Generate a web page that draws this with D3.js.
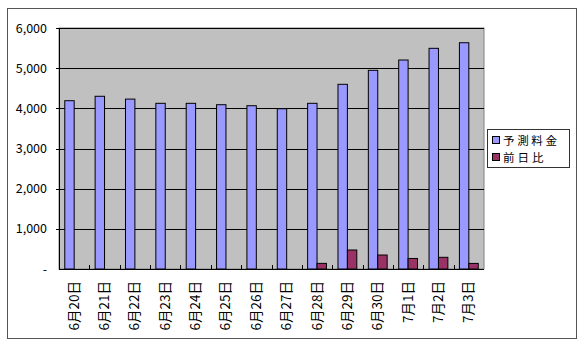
<!DOCTYPE html>
<html>
<head>
<meta charset="utf-8">
<script src="https://cdn.jsdelivr.net/npm/d3@7"></script>
<style>
  body { margin: 0; background: #fff; }
  svg text { font-family: "Noto Sans CJK JP", "DejaVu Sans", sans-serif; }
</style>
</head>
<body>
<svg id="chart" width="586" height="346"></svg>
<script>
// data
const categories = ["6月20日", "6月21日", "6月22日", "6月23日", "6月24日", "6月25日", "6月26日",
                    "6月27日", "6月28日", "6月29日", "6月30日", "7月1日", "7月2日", "7月3日"];
const yosoku = [4190, 4300, 4230, 4125, 4125, 4090, 4065, 3990, 4125, 4598, 4946, 5203, 5494, 5633];
const zenjitsu = [0, 0, 0, 0, 0, 0, 0, 0, 140, 473, 348, 262, 291, 139];
const seriesNames = ["予測料金", "前日比"];
const seriesColors = ["#9999FF", "#993366"];
const yTicks = [0, 1000, 2000, 3000, 4000, 5000, 6000];

const svg = d3.select("#chart");

// outer chart frame
svg.append("rect")
  .attr("x", 7.5).attr("y", 8.5)
  .attr("width", 569).attr("height", 330)
  .attr("fill", "#fff").attr("stroke", "#555").attr("stroke-width", 1);

const plot = { left: 59, right: 484, top: 28, bottom: 269 };

const x = d3.scaleBand()
  .domain(categories)
  .range([plot.left, plot.right]);

const y = d3.scaleLinear()
  .domain([0, 6000])
  .range([plot.bottom, plot.top]);

const barW = x.bandwidth() * 0.31;
const barOff = (x.bandwidth() - 2 * barW) / 2;

// plot area background
svg.append("rect")
  .attr("x", plot.left).attr("y", plot.top)
  .attr("width", plot.right - plot.left).attr("height", plot.bottom - plot.top)
  .attr("fill", "#C0C0C0").attr("stroke", "#808080");

// gridlines
svg.append("g")
  .selectAll("line")
  .data(yTicks.filter(d => d > 0))
  .join("line")
  .attr("x1", plot.left - 3).attr("x2", plot.right)
  .attr("y1", d => Math.round(y(d)) + 0.5).attr("y2", d => Math.round(y(d)) + 0.5)
  .attr("stroke", "#000").attr("stroke-width", 1);

// y axis labels
svg.append("g")
  .selectAll("text")
  .data(yTicks)
  .join("text")
  .attr("x", 47)
  .attr("y", d => y(d) + 4.5)
  .attr("text-anchor", "end")
  .attr("font-size", 12.5)
  .attr("fill", "#000")
  .text(d => d === 0 ? "-" : d3.format(",")(d));

// bars
const series = [yosoku, zenjitsu];
series.forEach((vals, si) => {
  svg.append("g")
    .selectAll("rect")
    .data(categories)
    .join("rect")
    .attr("x", (c) => x(c) + barOff + si * barW)
    .attr("y", (c, i) => y(Math.max(0, vals[i])))
    .attr("width", barW)
    .attr("height", (c, i) => y(0) - y(Math.max(0, vals[i])))
    .attr("fill", seriesColors[si])
    .attr("stroke", "#000")
    .attr("stroke-width", 1)
    .attr("display", (c, i) => vals[i] > 0 ? null : "none");
});

// axes lines
svg.append("line")
  .attr("x1", plot.left + 0.5).attr("x2", plot.left + 0.5)
  .attr("y1", plot.top).attr("y2", plot.bottom)
  .attr("stroke", "#000");
svg.append("line")
  .attr("x1", plot.left).attr("x2", plot.right)
  .attr("y1", plot.bottom + 0.5).attr("y2", plot.bottom + 0.5)
  .attr("stroke", "#000");

// x ticks (pointing up into the plot)
svg.append("g")
  .selectAll("line")
  .data(categories.slice(1))
  .join("line")
  .attr("x1", c => Math.round(x(c)) + 0.5).attr("x2", c => Math.round(x(c)) + 0.5)
  .attr("y1", plot.bottom - 4).attr("y2", plot.bottom)
  .attr("stroke", "#000");

// x labels, rotated
svg.append("g")
  .selectAll("text")
  .data(categories)
  .join("text")
  .attr("transform", c => `translate(${x(c) + x.bandwidth() / 2 + 4.5},281) rotate(-90)`)
  .attr("text-anchor", "end")
  .attr("font-size", 13.5)
  .attr("fill", "#000")
  .text(c => c);

// legend
const lg = svg.append("g");
lg.append("rect")
  .attr("x", 487.5).attr("y", 129.5)
  .attr("width", 82).attr("height", 38)
  .attr("fill", "#fff").attr("stroke", "#333");
seriesNames.forEach((name, i) => {
  lg.append("rect")
    .attr("x", 492.5).attr("y", 136.5 + i * 17)
    .attr("width", 7).attr("height", 7)
    .attr("fill", seriesColors[i]).attr("stroke", "#000");
  lg.append("text")
    .attr("x", 503).attr("y", 144.5 + i * 17)
    .attr("font-size", 11.5)
    .attr("textLength", name.length * 13.5)
    .attr("lengthAdjust", "spacing")
    .attr("fill", "#000")
    .text(name);
});
</script>
</body>
</html>
